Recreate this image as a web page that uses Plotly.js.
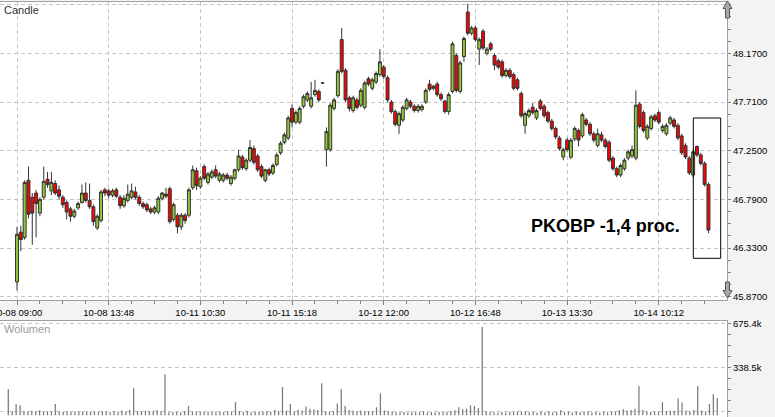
<!DOCTYPE html>
<html><head><meta charset="utf-8">
<script src="https://cdn.plot.ly/plotly-3.0.1.min.js"></script>
<style>html,body{margin:0;padding:0;background:#f3f3f3;} #chart{width:775px;height:417px;}</style>
</head><body><div id="chart"></div>
<script>
// ---- data ----
const tickLabels = ['10-08 09:00','10-08 13:48','10-11 10:30','10-11 15:18','10-12 12:00','10-12 16:48','10-13 13:30','10-14 10:12'];
const tickIndex = [0,24,48,72,96,120,144,168];

const open = [46.01,46.48,46.43,46.97,46.81,46.85,46.66,46.81,46.98,46.87,46.94,46.88,46.81,46.76,46.70,46.63,46.71,46.76,46.85,46.78,
46.72,46.52,46.59,46.88,46.87,46.83,46.88,46.81,46.73,46.78,46.81,46.86,46.81,46.75,46.74,46.70,46.67,46.67,46.80,46.84,
46.89,46.60,46.64,46.53,46.64,46.64,46.90,47.06,46.91,47.10,46.95,47.00,47.07,46.97,46.97,47.02,46.94,46.99,47.07,47.19,
47.08,47.16,47.27,47.20,47.10,46.97,47.07,47.04,47.12,47.23,47.33,47.37,47.65,47.52,47.52,47.67,47.73,47.67,47.78,47.81,
47.89,47.26,47.26,47.65,47.77,48.30,48.01,47.75,47.63,47.73,47.68,47.66,47.93,47.84,47.90,47.97,48.04,47.94,47.71,47.62,
47.49,47.54,47.65,47.71,47.67,47.63,47.64,47.71,47.88,47.86,47.88,47.78,47.72,47.62,47.81,48.15,47.81,48.14,48.56,48.36,
48.41,48.21,48.38,48.17,48.26,48.15,48.10,48.09,47.96,48.01,47.97,47.92,47.79,47.49,47.58,47.66,47.56,47.72,47.67,47.61,
47.53,47.46,47.37,47.19,47.35,47.19,47.36,47.44,47.39,47.54,47.50,47.41,47.30,47.40,47.35,47.33,47.18,47.08,47.02,47.08,
47.18,47.20,47.18,47.69,47.61,47.37,47.46,47.58,47.61,47.44,47.41,47.51,47.54,47.49,47.39,47.30,47.18,47.02,47.29,47.21,
47.13,46.93];
const high = [46.53,46.54,46.97,47.10,46.85,46.88,46.81,47.10,47.05,47.05,46.97,46.92,46.83,46.78,46.72,46.70,46.77,46.93,46.95,46.94,
46.74,46.65,46.88,46.90,46.89,46.89,46.90,46.83,46.83,46.93,46.94,46.91,46.83,46.77,46.76,46.72,46.73,46.82,46.86,46.90,
46.91,46.76,46.66,46.66,46.66,46.90,47.11,47.09,47.01,47.12,47.05,47.07,47.11,47.05,47.04,47.04,47.02,47.08,47.26,47.21,
47.18,47.35,47.30,47.22,47.12,47.08,47.09,47.13,47.23,47.34,47.42,47.58,47.69,47.63,47.67,47.78,47.81,47.90,47.92,47.83,
47.895,47.47,47.70,47.75,48.02,48.41,48.03,47.77,47.77,47.75,47.84,47.91,47.95,47.94,48.00,48.21,48.06,47.96,47.73,47.64,
47.62,47.68,47.75,47.73,47.69,47.69,47.69,47.84,47.92,47.87,47.90,47.80,47.73,47.80,48.28,48.17,48.10,48.33,48.64,48.43,
48.43,48.32,48.40,48.23,48.28,48.17,48.12,48.11,48.03,48.03,47.99,47.94,47.81,47.62,47.65,47.70,47.65,47.74,47.69,47.63,
47.55,47.48,47.39,47.28,47.37,47.37,47.48,47.46,47.61,47.56,47.52,47.43,47.46,47.43,47.37,47.35,47.20,47.10,47.13,47.18,
47.26,47.30,47.82,47.71,47.63,47.50,47.59,47.60,47.63,47.50,47.51,47.58,47.56,47.51,47.41,47.32,47.20,47.26,47.30,47.23,
47.15,46.95];
const low = [45.93,46.30,46.41,46.61,46.36,46.43,46.63,46.79,46.90,46.83,46.83,46.79,46.71,46.60,46.58,46.61,46.69,46.75,46.76,46.70,
46.54,46.50,46.57,46.82,46.80,46.81,46.80,46.70,46.71,46.76,46.79,46.79,46.73,46.70,46.67,46.65,46.65,46.65,46.78,46.80,
46.56,46.58,46.47,46.50,46.56,46.62,46.88,46.88,46.89,46.97,46.93,46.98,46.99,46.95,46.95,46.97,46.92,46.97,47.05,47.07,
47.06,47.14,47.12,47.05,46.99,46.95,47.01,47.02,47.10,47.21,47.31,47.35,47.47,47.50,47.50,47.65,47.71,47.65,47.76,47.71,
47.885,47.10,47.24,47.63,47.75,47.98,47.71,47.62,47.61,47.64,47.66,47.64,47.86,47.82,47.88,47.95,47.93,47.71,47.60,47.48,
47.41,47.52,47.63,47.65,47.61,47.61,47.62,47.69,47.81,47.82,47.76,47.72,47.60,47.59,47.79,47.80,47.79,48.09,48.34,48.34,
48.28,48.06,48.20,48.15,48.19,48.01,48.02,47.94,47.94,47.93,47.82,47.82,47.56,47.41,47.56,47.59,47.54,47.63,47.56,47.51,
47.44,47.36,47.25,47.16,47.24,47.17,47.34,47.29,47.37,47.48,47.39,47.33,47.28,47.33,47.27,47.14,47.06,47.00,47.00,47.06,
47.16,47.18,47.16,47.46,47.42,47.35,47.44,47.52,47.50,47.42,47.39,47.49,47.46,47.35,47.21,47.17,47.02,47.00,47.19,47.11,
46.91,46.47];
const close = [46.46,46.41,46.95,46.65,46.66,46.75,46.79,46.96,46.93,46.95,46.85,46.82,46.74,46.67,46.63,46.68,46.75,46.85,46.78,46.72,
46.58,46.63,46.86,46.85,46.83,46.87,46.82,46.73,46.80,46.84,46.87,46.81,46.75,46.72,46.69,46.67,46.71,46.80,46.85,46.82,
46.58,46.74,46.53,46.64,46.59,46.88,47.07,46.92,46.99,46.99,47.03,47.05,47.01,47.03,47.02,46.99,47.00,47.07,47.20,47.09,
47.16,47.28,47.14,47.07,47.01,47.07,47.03,47.11,47.21,47.32,47.40,47.56,47.52,47.61,47.65,47.76,47.79,47.75,47.82,47.73,
47.89,47.43,47.68,47.73,48.00,48.00,47.73,47.65,47.75,47.66,47.82,47.89,47.88,47.92,47.98,48.09,47.95,47.73,47.62,47.50,
47.60,47.66,47.73,47.67,47.63,47.67,47.67,47.82,47.83,47.84,47.78,47.74,47.62,47.78,48.26,47.82,48.08,48.31,48.36,48.41,
48.30,48.30,48.22,48.21,48.21,48.06,48.04,47.96,48.01,47.95,47.84,47.84,47.58,47.60,47.63,47.61,47.63,47.65,47.58,47.53,
47.46,47.38,47.27,47.26,47.26,47.35,47.46,47.35,47.59,47.50,47.41,47.35,47.41,47.35,47.29,47.16,47.08,47.02,47.11,47.16,
47.24,47.26,47.68,47.48,47.44,47.48,47.57,47.54,47.52,47.48,47.49,47.56,47.48,47.37,47.23,47.19,47.04,47.24,47.21,47.13,
46.93,46.50];
const volume = [197000,32000,85000,75000,30000,28000,34000,30000,38000,26000,30000,27000,85000,29000,25000,31000,24000,28000,26000,30000,
24000,27000,29000,25000,30000,28000,24000,31000,27000,33000,26000,40000,205000,32000,30000,35000,28000,33000,38000,30000,
312000,22000,25000,27000,23000,30000,70000,28000,26000,30000,25000,27000,24000,29000,26000,25000,31000,27000,101000,30000,
26000,33000,24000,27000,25000,28000,30000,26000,40000,32000,215000,35000,85000,30000,42000,36000,66000,50000,45000,38000,
243000,30000,26000,32000,90000,197000,70000,40000,33000,30000,35000,28000,32000,30000,60000,167000,36000,30000,28000,25000,
22000,24000,20000,26000,22000,24000,30000,22000,25000,21000,24000,22000,26000,30000,38000,60000,45000,50000,75000,70000,
55000,672000,30000,24000,22000,20000,24000,21000,26000,23000,28000,25000,30000,22000,24000,21000,26000,23000,28000,22000,
25000,38000,24000,27000,23000,26000,22000,25000,30000,22000,24000,21000,26000,23000,28000,30000,38000,45000,35000,40000,
50000,223000,40000,28000,25000,30000,27000,98000,30000,35000,33000,129000,97000,35000,30000,40000,223000,36000,30000,85000,
160000,129000];
const priceTicks = [45.87, 46.33, 46.79, 47.25, 47.71, 48.17, 48.63];
const volTicks = [1653, 338527, 675400];
const volTickText = ['1653', '338.5k', '675.4k'];

// ---- geometry helpers (decorations only) ----
const W = 775, H = 417, ML = 0, MR = 48, MT = 2, MB = 0;
const PW = W - ML - MR, PH = H - MT - MB;
const px = X => (X - ML) / PW;
const py = Y => (H - MB - Y) / PH;
const poly = pts => 'M ' + pts.map(p => px(p[0]).toFixed(5) + ',' + py(p[1]).toFixed(5)).join(' L ') + ' Z';

const idx = open.map((_, i) => i);
const vidx = volume.map((_, i) => i);
// candles are drawn in two interleaved passes so that bodies may overlap like the original
const pick = (arr, par) => arr.filter((_, i) => i % 2 === par);

const gridC = '#c6c6c6', lineC = '#a0a0a0', tickF = {family: 'Liberation Sans, Arial, sans-serif', size: 9.5, color: '#000'};
const candleStyle = {
  increasing: {fillcolor: '#93c83a', line: {color: '#333333', width: 1}},
  decreasing: {fillcolor: '#ff0000', line: {color: '#333333', width: 1}},
  whiskerwidth: 0, hoverinfo: 'skip', showlegend: false, type: 'candlestick'
};

const traces = [
  Object.assign({x: pick(idx, 0), open: pick(open, 0), high: pick(high, 0), low: pick(low, 0), close: pick(close, 0),
    xaxis: 'x', yaxis: 'y'}, candleStyle),
  Object.assign({x: pick(idx, 1), open: pick(open, 1), high: pick(high, 1), low: pick(low, 1), close: pick(close, 1),
    xaxis: 'x3', yaxis: 'y'}, candleStyle),
  {
    type: 'bar', x: vidx, y: volume, base: -25000, xaxis: 'x2', yaxis: 'y2',
    width: 0.32, marker: {color: '#7a7a7a', line: {width: 0}}, hoverinfo: 'skip', showlegend: false
  }
];

const xRange = [-4.45, 185.86];
const layout = {
  width: W, height: H,
  margin: {l: ML, r: MR, t: MT, b: MB, pad: 0},
  paper_bgcolor: '#f3f3f3', plot_bgcolor: '#ffffff',
  showlegend: false, hovermode: false, dragmode: false,
  boxgap: 0.45,
  xaxis: {
    domain: [0, 1], anchor: 'y', range: xRange, fixedrange: true,
    rangeslider: {visible: false},
    tickmode: 'array', tickvals: tickIndex, ticktext: tickLabels, ticklabeloverflow: 'allow',
    ticks: 'outside', ticklen: 4, tickcolor: '#808080', tickfont: tickF,
    minor: {dtick: 6, tick0: 0, ticks: 'outside', ticklen: 3, tickcolor: '#808080', showgrid: false},
    showgrid: true, gridcolor: gridC, griddash: '4px,3px', gridwidth: 1,
    showline: true, linecolor: lineC, linewidth: 1, mirror: true, zeroline: false
  },
  xaxis3: {
    overlaying: 'x', anchor: 'y', range: xRange, fixedrange: true, rangeslider: {visible: false},
    showticklabels: false, ticks: '', showgrid: false, showline: false, zeroline: false
  },
  yaxis: {
    domain: [py(300), 1], anchor: 'x', side: 'right', range: [45.8388, 48.6555], fixedrange: true,
    tickmode: 'array', tickvals: priceTicks, tickformat: '.4f',
    ticks: 'outside', ticklen: 3, tickcolor: '#808080', tickfont: tickF,
    minor: {dtick: 0.115, tick0: 45.87, ticks: 'outside', ticklen: 3, tickcolor: '#808080', showgrid: false},
    showgrid: true, gridcolor: gridC, griddash: '4px,3px', gridwidth: 1,
    showline: true, linecolor: lineC, linewidth: 1, zeroline: false
  },
  xaxis2: {
    domain: [0, 1], anchor: 'y2', range: [-2.119, 183.48], fixedrange: true,
    showticklabels: false, ticks: '', showgrid: false,
    showline: true, linecolor: lineC, linewidth: 1, mirror: true, zeroline: false
  },
  yaxis2: {
    domain: [0, py(321)], anchor: 'x2', side: 'right', range: [-38741, 692923], fixedrange: true,
    tickmode: 'array', tickvals: volTicks, ticktext: volTickText,
    ticks: 'outside', ticklen: 3, tickcolor: '#808080', tickfont: tickF,
    minor: {dtick: 84219, tick0: 1653, ticks: 'outside', ticklen: 3, tickcolor: '#808080', showgrid: false},
    showgrid: true, gridcolor: gridC, griddash: '4px,3px', gridwidth: 1,
    showline: true, linecolor: lineC, linewidth: 1, zeroline: false
  },
  annotations: [
    {xref: 'paper', yref: 'paper', x: px(2), y: py(10), xanchor: 'left', yanchor: 'middle', showarrow: false,
     text: 'Candle', font: {family: 'Liberation Sans, Arial, sans-serif', size: 11, color: '#333333'}},
    {xref: 'paper', yref: 'paper', x: px(2), y: py(329), xanchor: 'left', yanchor: 'middle', showarrow: false,
     text: 'Wolumen', font: {family: 'Liberation Sans, Arial, sans-serif', size: 11, color: '#9a9a9a'}},
    {xref: 'paper', yref: 'paper', x: px(529), y: py(226), xanchor: 'left', yanchor: 'middle', showarrow: false,
     text: 'PKOBP -1,4 proc.', font: {family: 'Liberation Sans, Arial, sans-serif', size: 18, color: '#000000', weight: 'bold'}}
  ],
  shapes: [
    {type: 'rect', xref: 'paper', yref: 'paper', x0: px(693.3), x1: px(720.7), y0: py(258.3), y1: py(118),
     line: {color: '#000000', width: 1}, fillcolor: 'rgba(0,0,0,0)'},
    {type: 'path', xref: 'paper', yref: 'paper',
     path: poly([[727.5,1],[732,8.5],[729.5,8.5],[729.5,18],[725.5,18],[725.5,8.5],[723,8.5]]),
     fillcolor: '#a8a8a8', line: {color: '#555555', width: 1}},
    {type: 'path', xref: 'paper', yref: 'paper',
     path: poly([[727.5,298],[732,290.5],[729.5,290.5],[729.5,282],[725.5,282],[725.5,290.5],[723,290.5]]),
     fillcolor: '#a8a8a8', line: {color: '#555555', width: 1}}
  ]
};

Plotly.newPlot('chart', traces, layout, {displayModeBar: false, staticPlot: true});
</script>
</body></html>
